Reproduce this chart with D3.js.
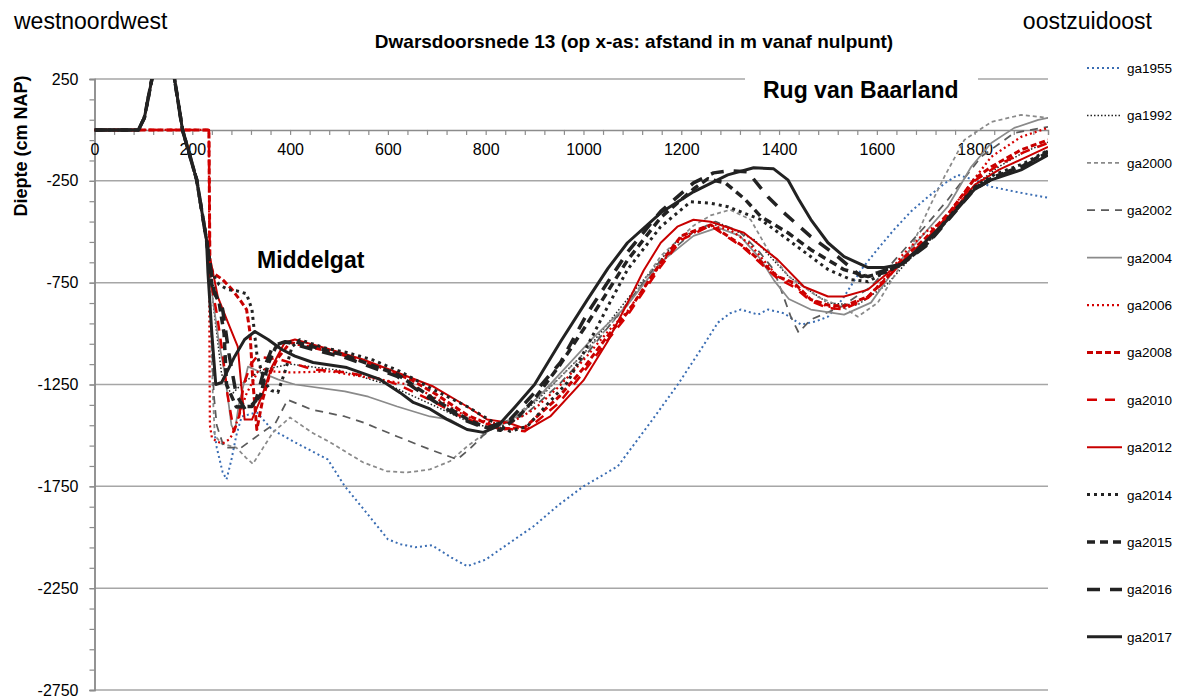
<!DOCTYPE html>
<html>
<head>
<meta charset="utf-8">
<script src="https://cdn.jsdelivr.net/npm/d3@7"></script>
<style>
  body { margin: 0; background: #fff; }
  text { font-family: "Liberation Sans", Arial, sans-serif; fill: #000; }
</style>
</head>
<body>
<svg width="1183" height="698"></svg>
<script>
// profile data: [afstand (m), diepte (cm NAP)]
const dike = [[0,0],[90,0],[102,60],[117,245],[143,560],[164,245],[180,0],[209,-245],[229,-539]];

const ga1955 = [[245,-1480],[250,-1560],[262,-1680],[270,-1716],[280,-1620],[290,-1500],[301,-1407],[332,-1387],[363,-1471],[410,-1534],[477,-1618],[512,-1750],[553,-1870],[600,-2010],[625,-2034],[656,-2049],[690,-2039],[730,-2100],[762,-2142],[800,-2110],[830,-2059],[898,-1946],[950,-1840],[1000,-1750],[1070,-1652],[1137,-1436],[1193,-1250],[1240,-1078],[1275,-946],[1300,-900],[1322,-882],[1357,-907],[1377,-882],[1410,-900],[1445,-956],[1475,-940],[1500,-917],[1530,-830],[1568,-686],[1600,-590],[1635,-490],[1670,-400],[1705,-328],[1740,-260],[1766,-221],[1799,-245],[1834,-279],[1895,-309],[1950,-333]];

const ga1992 = dike.concat([[245,-900],[260,-1200],[280,-1300],[300,-1250],[340,-1180],[400,-1150],[500,-1180],[600,-1250],[700,-1360],[780,-1450],[830,-1460],[900,-1340],[1000,-1100],[1100,-800],[1200,-520],[1280,-460],[1350,-540],[1420,-720],[1500,-850],[1560,-860],[1620,-760],[1680,-600],[1750,-420],[1800,-270],[1850,-180],[1900,-110],[1950,-60]]);

const ga2000 = dike.concat([[236,-800],[242,-1300],[246,-1500],[260,-1540],[290,-1560],[310,-1610],[324,-1640],[345,-1560],[365,-1485],[400,-1412],[444,-1485],[482,-1534],[549,-1632],[598,-1676],[640,-1682],[686,-1667],[727,-1627],[762,-1554],[809,-1471],[850,-1420],[900,-1330],[950,-1220],[1000,-1100],[1050,-970],[1090,-860],[1158,-620],[1225,-470],[1260,-420],[1300,-392],[1342,-441],[1377,-588],[1420,-720],[1480,-820],[1530,-870],[1561,-917],[1602,-848],[1635,-720],[1670,-580],[1705,-392],[1738,-230],[1779,-49],[1834,39],[1895,74],[1950,59]]);

const ga2002 = dike.concat([[238,-900],[244,-1300],[250,-1450],[265,-1560],[300,-1560],[340,-1490],[370,-1440],[395,-1325],[444,-1373],[512,-1407],[549,-1436],[619,-1505],[686,-1569],[742,-1618],[770,-1560],[795,-1500],[830,-1440],[880,-1400],[950,-1250],[1000,-1120],[1090,-850],[1158,-640],[1225,-500],[1270,-450],[1320,-500],[1360,-600],[1389,-686],[1424,-917],[1440,-995],[1465,-931],[1527,-868],[1588,-770],[1650,-603],[1700,-470],[1745,-343],[1813,-132],[1881,-15],[1950,15]]);

const ga2004 = dike.concat([[242,-833],[255,-1050],[266,-1191],[280,-1450],[287,-1480],[295,-1350],[314,-1162],[340,-1190],[375,-1225],[410,-1250],[512,-1284],[560,-1310],[619,-1358],[686,-1407],[727,-1422],[762,-1471],[795,-1485],[824,-1456],[870,-1400],[920,-1280],[970,-1150],[1020,-1020],[1090,-860],[1158,-650],[1225,-520],[1275,-480],[1320,-520],[1363,-637],[1390,-740],[1420,-830],[1465,-882],[1533,-907],[1588,-848],[1650,-637],[1700,-500],[1745,-377],[1793,-181],[1834,-64],[1881,10],[1930,49],[1950,59]]);

const ga2006 = [[0,0],[234,0],[235,-1000],[236,-1450],[240,-1510],[250,-1530],[262,-1540],[275,-1520],[281,-1500],[293,-1422],[310,-1300],[338,-1167],[360,-1185],[400,-1191],[482,-1186],[549,-1211],[619,-1240],[650,-1255],[700,-1320],[762,-1410],[816,-1440],[850,-1440],[900,-1370],[950,-1260],[1000,-1130],[1050,-990],[1090,-890],[1158,-660],[1200,-530],[1260,-470],[1300,-490],[1340,-560],[1397,-720],[1430,-760],[1465,-833],[1500,-868],[1533,-873],[1582,-818],[1620,-720],[1650,-620],[1700,-500],[1732,-456],[1793,-260],[1834,-132],[1895,-34],[1950,10]];

const ga2008 = [[0,0],[234,0],[236,-650],[242,-701],[262,-735],[280,-780],[297,-833],[311,-882],[318,-995],[324,-1240],[332,-1471],[344,-1324],[358,-1200],[373,-1127],[400,-1044],[450,-1070],[516,-1110],[580,-1160],[650,-1230],[700,-1300],[762,-1400],[830,-1470],[880,-1460],[950,-1310],[1000,-1170],[1050,-1010],[1090,-897],[1158,-652],[1200,-520],[1260,-466],[1328,-573],[1397,-720],[1430,-750],[1465,-833],[1500,-860],[1533,-865],[1582,-818],[1623,-720],[1650,-640],[1700,-530],[1750,-400],[1800,-240],[1834,-181],[1895,-98],[1950,-49]];

const ga2010 = [[0,0],[234,0],[236,-720],[250,-900],[262,-1100],[272,-1300],[285,-1480],[295,-1420],[305,-1250],[320,-1150],[332,-1113],[379,-1127],[447,-1176],[516,-1191],[580,-1220],[620,-1250],[690,-1330],[760,-1420],[830,-1460],[880,-1480],[950,-1340],[1000,-1190],[1050,-1030],[1090,-910],[1158,-670],[1200,-540],[1260,-470],[1328,-580],[1397,-730],[1430,-770],[1465,-840],[1500,-875],[1533,-880],[1582,-825],[1623,-725],[1650,-650],[1700,-540],[1750,-410],[1800,-250],[1850,-170],[1900,-110],[1950,-64]];

const ga2012 = dike.concat([[252,-818],[273,-946],[293,-1064],[301,-1275],[307,-1422],[322,-1422],[342,-1309],[363,-1162],[389,-1044],[410,-1029],[482,-1078],[549,-1127],[619,-1191],[693,-1260],[762,-1358],[803,-1422],[844,-1436],[885,-1471],[932,-1407],[1000,-1230],[1049,-1040],[1090,-850],[1123,-690],[1158,-554],[1192,-475],[1225,-441],[1260,-451],[1328,-505],[1397,-637],[1451,-770],[1500,-818],[1533,-818],[1582,-784],[1623,-701],[1650,-655],[1700,-550],[1745,-430],[1800,-270],[1850,-195],[1900,-140],[1950,-83]]);

const ga2014 = dike.concat([[240,-700],[255,-760],[273,-784],[291,-790],[311,-805],[322,-882],[332,-1100],[348,-1240],[362,-1280],[375,-1289],[389,-1191],[404,-1064],[420,-1030],[470,-1070],[516,-1093],[570,-1130],[625,-1186],[693,-1275],[762,-1358],[816,-1436],[850,-1480],[885,-1456],[925,-1350],[967,-1240],[1008,-1060],[1049,-870],[1090,-686],[1158,-475],[1219,-353],[1260,-360],[1295,-377],[1363,-441],[1430,-560],[1500,-685],[1547,-735],[1582,-745],[1615,-701],[1650,-665],[1700,-560],[1750,-420],[1800,-280],[1840,-220],[1900,-165],[1950,-100]]);

const ga2015 = dike.concat([[240,-760],[255,-850],[265,-1000],[270,-1250],[290,-1360],[322,-1358],[340,-1300],[355,-1150],[370,-1070],[389,-1044],[410,-1040],[516,-1110],[619,-1200],[693,-1320],[762,-1420],[800,-1460],[830,-1475],[870,-1400],[900,-1320],[953,-1150],[1008,-950],[1090,-640],[1158,-430],[1225,-290],[1254,-240],[1290,-260],[1330,-340],[1363,-426],[1418,-505],[1465,-588],[1533,-686],[1582,-720],[1615,-700],[1650,-660],[1700,-565],[1750,-425],[1800,-285],[1840,-230],[1900,-175],[1950,-105]]);

const ga2016 = dike.concat([[245,-800],[262,-880],[275,-1100],[290,-1300],[310,-1380],[330,-1330],[350,-1150],[365,-1060],[390,-1040],[450,-1080],[516,-1120],[619,-1210],[693,-1330],[762,-1430],[800,-1465],[850,-1422],[900,-1290],[953,-1142],[1008,-900],[1090,-600],[1158,-400],[1225,-260],[1266,-211],[1300,-200],[1336,-206],[1377,-328],[1410,-407],[1465,-524],[1520,-622],[1568,-720],[1602,-701],[1650,-660],[1700,-570],[1750,-430],[1800,-290],[1840,-235],[1900,-180],[1950,-110]]);

const ga2017 = dike.concat([[232,-700],[240,-1000],[248,-1250],[260,-1240],[287,-1111],[307,-1029],[328,-990],[355,-1029],[383,-1078],[410,-1111],[447,-1142],[516,-1167],[584,-1225],[625,-1290],[652,-1338],[686,-1370],[720,-1420],[762,-1471],[795,-1485],[824,-1456],[860,-1360],[900,-1250],[953,-1040],[1008,-833],[1050,-680],[1090,-554],[1158,-407],[1225,-304],[1295,-221],[1348,-186],[1389,-191],[1418,-245],[1440,-340],[1465,-440],[1500,-554],[1533,-622],[1582,-676],[1615,-676],[1650,-660],[1676,-603],[1745,-441],[1799,-294],[1834,-245],[1895,-196],[1950,-123]]);

const seriesNames = ["ga1955","ga1992","ga2000","ga2002","ga2004","ga2006","ga2008","ga2010","ga2012","ga2014","ga2015","ga2016","ga2017"];
const seriesData = [ga1955, ga1992, ga2000, ga2002, ga2004, ga2006, ga2008, ga2010, ga2012, ga2014, ga2015, ga2016, ga2017];

const xTickLabels = [0,200,400,600,800,1000,1200,1400,1600,1800];
const yTickLabels = [250,-250,-750,-1250,-1750,-2250,-2750];

// line styles per series
const styles = {
  ga1955: {c: "#3a6db3", w: 2,   d: "2,3"},
  ga1992: {c: "#222",    w: 1.5, d: "1.5,2"},
  ga2000: {c: "#8a8a8a", w: 1.75, d: "4,3"},
  ga2002: {c: "#5a5a5a", w: 1.75, d: "8,6"},
  ga2004: {c: "#8a8a8a", w: 1.75, d: null},
  ga2006: {c: "#d40000", w: 2.25, d: "2,3"},
  ga2008: {c: "#c80000", w: 3,   d: "6,3"},
  ga2010: {c: "#d40000", w: 2.5, d: "10,8"},
  ga2012: {c: "#c80000", w: 2,   d: null},
  ga2014: {c: "#222",    w: 3,   d: "3,4"},
  ga2015: {c: "#222",    w: 3.5, d: "8,5"},
  ga2016: {c: "#222",    w: 3.5, d: "13,10"},
  ga2017: {c: "#222",    w: 3,   d: null}
};

const svg = d3.select("svg");
const x = d3.scaleLinear().domain([0, 1950]).range([94.5, 1048]);
const y = d3.scaleLinear().domain([-2750, 250]).range([690, 79]);

// horizontal gridlines
svg.append("g").selectAll("line")
  .data(yTickLabels)
  .enter().append("line")
    .attr("x1", x(0)).attr("x2", x(1950))
    .attr("y1", d => y(d)).attr("y2", d => y(d))
    .attr("stroke", "#a6a6a6").attr("stroke-width", 1.5);

// y axis with minor ticks
const yMinor = svg.append("g").attr("transform", `translate(${x(0)},0)`)
  .call(d3.axisLeft(y).tickValues(d3.range(-2750, 251, 100)).tickSize(5).tickFormat(""));
const yMajor = svg.append("g").attr("transform", `translate(${x(0)},0)`)
  .call(d3.axisLeft(y).tickValues(yTickLabels).tickSize(5).tickPadding(11).tickFormat(d => d));
[yMinor, yMajor].forEach(g => {
  g.select(".domain").attr("stroke", "#8c8c8c").attr("stroke-width", 1.5);
  g.selectAll(".tick line").attr("stroke", "#8c8c8c").attr("stroke-width", 1.2);
});
yMajor.selectAll(".tick text").attr("font-size", 16).attr("font-family", "Liberation Sans, Arial, sans-serif").attr("fill", "#000");

// x axis at y = 0
const xMinor = svg.append("g").attr("transform", `translate(0,${y(0)})`)
  .call(d3.axisBottom(x).tickValues(d3.range(0, 1951, 40)).tickSize(5).tickFormat(""));
xMinor.select(".domain").attr("stroke", "#8c8c8c").attr("stroke-width", 1.5);
xMinor.selectAll(".tick line").attr("stroke", "#8c8c8c").attr("stroke-width", 1.2);
const xLab = svg.append("g").attr("transform", `translate(0,${y(0)})`)
  .call(d3.axisBottom(x).tickValues(xTickLabels).tickSize(0).tickPadding(13.5).tickFormat(d => d));
xLab.select(".domain").remove();
xLab.selectAll(".tick text").attr("font-size", 16).attr("font-family", "Liberation Sans, Arial, sans-serif").attr("fill", "#000");

// label box that covers the top gridline
svg.append("rect").attr("x", 745).attr("y", 70).attr("width", 233).attr("height", 36).attr("fill", "#fff");
svg.append("text").attr("x", 763).attr("y", 98).attr("font-size", 23).attr("font-weight", "bold").text("Rug van Baarland");

// series
svg.append("clipPath").attr("id", "plot")
  .append("rect").attr("x", x(0)).attr("y", y(250)).attr("width", x(1950) - x(0)).attr("height", y(-2750) - y(250));

const line = d3.line().x(d => x(d[0])).y(d => y(d[1]));

svg.append("g").attr("clip-path", "url(#plot)")
  .selectAll("path")
  .data(seriesNames)
  .enter().append("path")
    .attr("d", (n, i) => line(seriesData[i]))
    .attr("fill", "none")
    .attr("stroke", n => styles[n].c)
    .attr("stroke-width", n => styles[n].w)
    .attr("stroke-dasharray", n => styles[n].d)
    .attr("stroke-linejoin", "round");

svg.append("text").attr("x", 257).attr("y", 268).attr("font-size", 23).attr("font-weight", "bold").text("Middelgat");

// titles
svg.append("text").attr("x", 634).attr("y", 48).attr("text-anchor", "middle")
  .attr("font-size", 19).attr("font-weight", "bold")
  .text("Dwarsdoorsnede 13 (op x-as: afstand in m vanaf nulpunt)");
svg.append("text").attr("x", 14).attr("y", 29).attr("font-size", 23).text("westnoordwest");
svg.append("text").attr("x", 1152).attr("y", 29).attr("text-anchor", "end").attr("font-size", 23).text("oostzuidoost");
svg.append("text").attr("transform", "translate(27,146) rotate(-90)").attr("text-anchor", "middle")
  .attr("font-size", 18).attr("font-weight", "bold").text("Diepte (cm NAP)");

// legend
const legend = svg.append("g").selectAll("g")
  .data(seriesNames)
  .enter().append("g")
    .attr("transform", (n, i) => `translate(1087,${68 + i * 47.4})`);
legend.append("line")
  .attr("x1", 0).attr("x2", 35).attr("y1", 0).attr("y2", 0)
  .attr("stroke", n => styles[n].c)
  .attr("stroke-width", n => styles[n].w)
  .attr("stroke-dasharray", n => styles[n].d);
legend.append("text").attr("x", 40).attr("y", 5).attr("font-size", 13.5).text(n => n);
</script>
</body>
</html>
